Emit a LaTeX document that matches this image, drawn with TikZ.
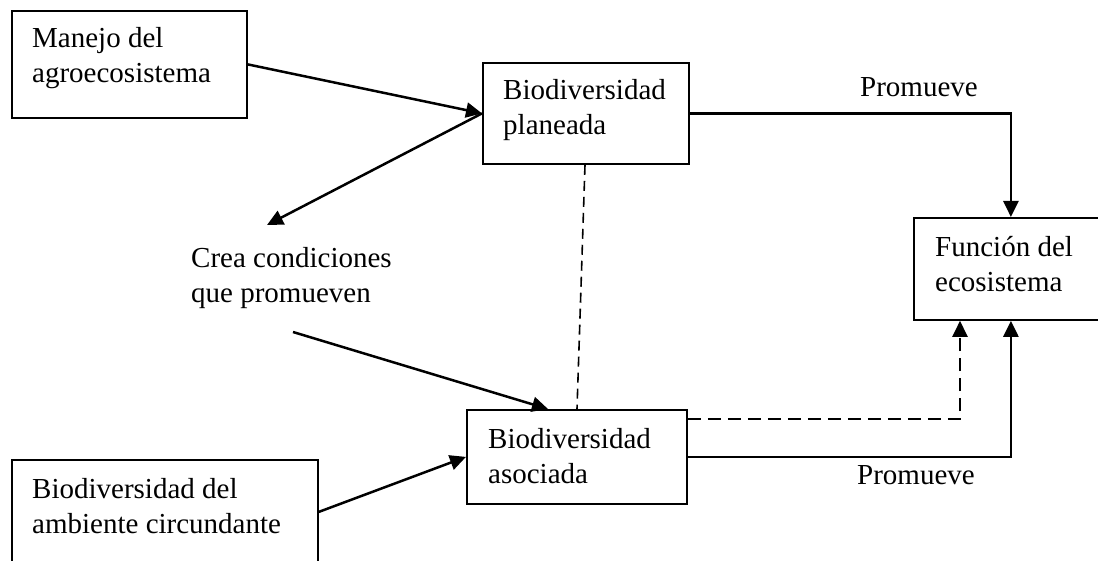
\documentclass[tikz,border=0pt]{standalone}
\usepackage{fontspec}
\setmainfont{Liberation Serif}
\usetikzlibrary{arrows.meta,calc}

\tikzset{
  box/.style={draw=black, line width=1.8pt, rectangle, inner sep=0pt, anchor=north west},
  lbl/.style={anchor=base west, inner sep=0pt, font=\fontsize{29}{35}\selectfont},
  link/.style={line width=2.5pt, -{Triangle[length=16pt,width=15pt]}},
  dashlink/.style={line width=2.3pt, dash pattern=on 13pt off 7pt, -{Triangle[length=16pt,width=15pt]}},
  tie/.style={line width=1.6pt, dash pattern=on 10pt off 6pt}
}
\newcommand{\twolines}[2]{\begin{tabular}[t]{@{}l@{}}#1\\#2\end{tabular}}

\begin{document}
\begin{tikzpicture}[x=1pt,y=-1pt]
  \fill[white] (0,0) rectangle (1098,561);
  \clip (0,0) rectangle (1098,561);

  % boxes
  \node[box, minimum width=235pt, minimum height=107pt] (a) at (11,10) {};
  \node[box, minimum width=206pt, minimum height=101pt] (b) at (482,62) {};
  \node[box, minimum width=194pt, minimum height=102pt] (c) at (913,217) {};
  \node[box, minimum width=220pt, minimum height=94pt]  (d) at (466,409) {};
  \node[box, minimum width=306pt, minimum height=104pt] (e) at (11,459) {};

  % box texts
  \node[lbl] (a-t) at (32,48)  {\twolines{Manejo del}{agroecosistema}};
  \node[lbl] (b-t) at (503,100) {\twolines{Biodiversidad}{planeada}};
  \node[lbl] (c-t) at (935,257) {\twolines{Función del}{ecosistema}};
  \node[lbl] (d-t) at (488,448) {\twolines{Biodiversidad}{asociada}};
  \node[lbl] (e-t) at (32,498) {\twolines{Biodiversidad del}{ambiente circundante}};

  % free labels
  \node[lbl] (crea) at (191,268) {\twolines{Crea condiciones}{que promueven}};
  \node[lbl] (p-top) at (860,97) {Promueve};
  \node[lbl] (p-bot) at (857,484) {Promueve};

  % loose ends of the condition arrows
  \coordinate (crea-in) at (267,225);
  \coordinate (crea-out) at (293,332);

  % connectors
  \draw[link] (a.east) -- (b.west);
  \draw[link] (b.west) -- (crea-in);
  \draw[link] (crea-out) -- ($(d.north west)+(82,0)$);
  \draw[link] (e.east) -- (d.west);
  \draw[link] (b.east) -| (c.north);
  \draw[link] (d.east) -| (c.south);
  \draw[dashlink] ($(d.north east)+(0,10)$) -| ($(c.south west)+(47,0)$);
  \draw[tie] ($(b.south west)+(103,0)$) -- ($(d.north west)+(111,0)$);
\end{tikzpicture}
\end{document}
